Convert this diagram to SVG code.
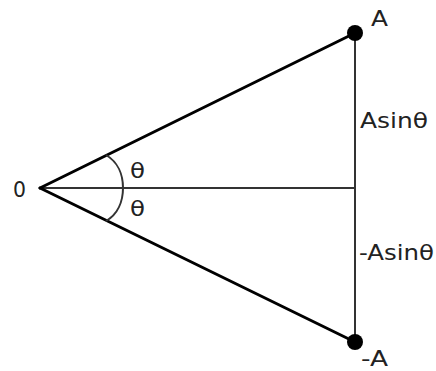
<svg xmlns="http://www.w3.org/2000/svg" width="436" height="371" viewBox="0 0 436 371">
<style>
.thick{stroke:#000;stroke-width:3;fill:none;stroke-linecap:round}
.thin{stroke:#333;stroke-width:2;fill:none}
.lbl{font-family:"DejaVu Sans","Liberation Sans",sans-serif;font-size:21px;fill:#222}
</style>
<rect width="436" height="371" fill="#fff"/>
<g id="connectors">
<line class="thin" x1="40" y1="188" x2="355" y2="188"/>
<line class="thin" x1="355" y1="33" x2="355" y2="342"/>
<line class="thick" x1="40" y1="188" x2="355" y2="33"/>
<line class="thick" x1="40" y1="188" x2="355" y2="342"/>
<path class="thin" d="M106,155 C118,162 123,175 123,188 C123,201 118,214 106,221"/>
</g>
<g id="node-O"><text class="lbl" x="13" y="197" textLength="13" lengthAdjust="spacingAndGlyphs">0</text></g>
<g id="node-A"><circle cx="355" cy="33" r="8" fill="#000"/><text class="lbl" x="371" y="26" textLength="17" lengthAdjust="spacingAndGlyphs">A</text></g>
<g id="node-negA"><circle cx="355" cy="342" r="8" fill="#000"/><text class="lbl" x="361" y="366" textLength="27" lengthAdjust="spacingAndGlyphs">-A</text></g>
<g id="label-asin"><text class="lbl" x="360" y="128" textLength="68" lengthAdjust="spacingAndGlyphs">Asinθ</text></g>
<g id="label-negasin"><text class="lbl" x="359" y="260" textLength="75" lengthAdjust="spacingAndGlyphs">-Asinθ</text></g>
<g id="theta1"><text class="lbl" x="130" y="178" textLength="15" lengthAdjust="spacingAndGlyphs">θ</text></g>
<g id="theta2"><text class="lbl" x="130" y="216" textLength="15" lengthAdjust="spacingAndGlyphs">θ</text></g>
</svg>
